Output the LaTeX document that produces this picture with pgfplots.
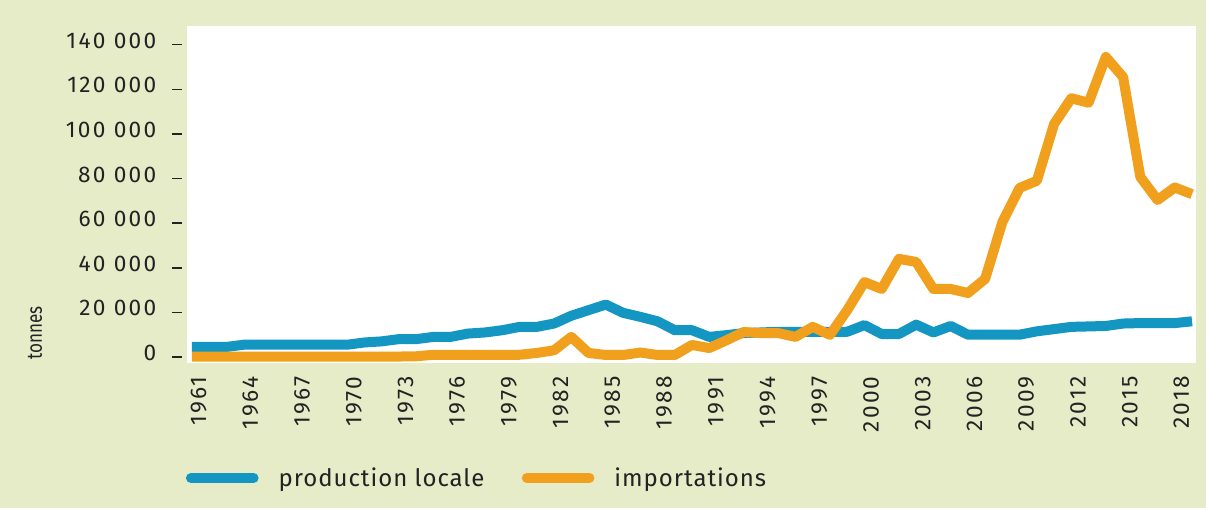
\documentclass[border=0pt]{standalone}
\usepackage{pgfplots}
\usepackage{pgfplotstable}
\pgfplotsset{compat=1.18}
\usepackage{fontspec}
\setmainfont[LetterSpace=4]{Fira Sans}
\newfontfamily\tickfont[LetterSpace=10]{Fira Sans}
\newfontfamily\condfont[FakeStretch=0.8]{Fira Sans}
\definecolor{bgc}{HTML}{E6EBC8}
\definecolor{blueline}{HTML}{1496C2}
\definecolor{orangeline}{HTML}{F0A01C}
\definecolor{txt}{HTML}{222222}
\pgfplotstableread{
year prod imp
1961 4500 200
1962 4500 200
1963 4500 200
1964 5500 200
1965 5500 200
1966 5500 200
1967 5500 200
1968 5500 200
1969 5500 200
1970 5500 200
1971 6500 200
1972 7000 200
1973 8000 200
1974 8000 300
1975 9000 1000
1976 9000 1000
1977 10500 1000
1978 11000 1000
1979 12000 1000
1980 13500 1000
1981 13500 1800
1982 15000 3000
1983 18500 9000
1984 21000 1800
1985 23500 900
1986 19800 900
1987 18000 2000
1988 16000 900
1989 12000 900
1990 12000 5400
1991 9000 4000
1992 9800 7500
1993 10700 11200
1994 11000 10700
1995 11300 10700
1996 11300 9000
1997 11300 13500
1998 11300 9900
1999 11300 21000
2000 14300 33600
2001 10300 30500
2002 10300 44000
2003 14500 42600
2004 11000 30500
2005 13900 30500
2006 10000 28700
2007 10000 35000
2008 10000 60500
2009 10000 75800
2010 11500 79000
2011 12500 104500
2012 13500 116000
2013 13700 114000
2014 13900 134500
2015 15000 125500
2016 15200 80700
2017 15200 70400
2018 15200 76000
2019 16000 73000
}\datatable
\begin{document}
\begin{tikzpicture}
\fill[bgc] (-140.25pt,-108.75pt) rectangle (764.25pt,272.25pt);
\begin{axis}[
  at={(0pt,0pt)}, anchor=south west,
  scale only axis, width=756.75pt, height=252.75pt,
  xmin=1960.71, xmax=2019.23, ymin=-2700, ymax=148400,
  clip mode=individual,
  axis line style={draw=none},
  axis background/.style={fill=white},
  scaled y ticks=false,
  xtick={1961,1964,...,2018},
  xticklabels={1961,1964,1967,1970,1973,1976,1979,1982,1985,1988,1991,1994,1997,2000,2003,2006,2009,2012,2015,2018},
  x tick label style={xshift=5pt, rotate=90, anchor=east, font=\tickfont\fontsize{17}{19}\selectfont, text=txt},
  xticklabel shift={-1pt},
  major x tick style={draw=none},
  ytick={0,20000,...,140000},
  yticklabels={0,20 000,40 000,60 000,80 000,100 000,120 000,140 000},
  y tick label style={anchor=east, font=\tickfont\fontsize{17}{19}\selectfont, text=txt, yshift=3pt},
  yticklabel shift={12pt},
  ytick pos=left,
  xtick pos=bottom,
  tick align=outside,
  major tick length=7.5pt,
  major y tick style={draw=txt, line width=1.1pt, xshift=-3.75pt},
  line join=round,
  legend style={at={(axis description cs:0,0)}, anchor=west, xshift=-4pt, yshift=-86.25pt,
    draw=none, fill=none, font=\fontsize{18}{20}\selectfont, text=txt, legend columns=2,
    /tikz/every odd column/.append style={column sep=13pt},
    /tikz/every even column/.append style={column sep=26pt}},
  legend image code/.code={\draw[#1, line cap=round] (0pt,0pt) -- (47pt,0pt);},
]
\addplot[blueline, line width=7.5pt] table[x=year, y=prod] {\datatable};
\addlegendentry{production locale}
\addplot[orangeline, line width=7.5pt] table[x=year, y=imp] {\datatable};
\addlegendentry{importations}
\node[xshift=-114pt, rotate=90, anchor=center, font=\condfont\fontsize{16}{18}\selectfont, text=txt] at (axis description cs:0,0.089) {tonnes};
\end{axis}
\pgfresetboundingbox
\path[use as bounding box] (-140.25pt,-108.75pt) rectangle (764.25pt,272.25pt);
\end{tikzpicture}
\end{document}
